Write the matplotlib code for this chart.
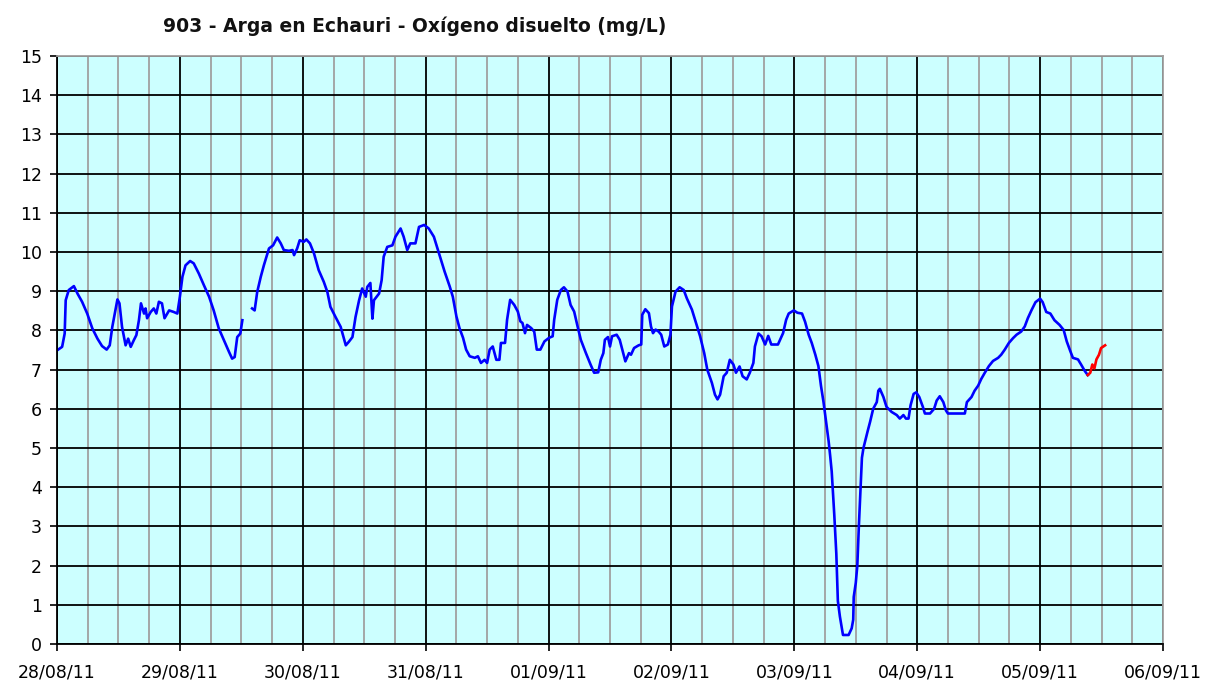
import numpy as np
import pandas as pd
import matplotlib
matplotlib.use("Agg")
import matplotlib.pyplot as plt
import matplotlib.dates as mdates

#hours since 28/08/11 00:00 and dissolved oxygen (mg/L)
start = pd.Timestamp("2011-08-28")

hours_a = [0.0, 1.0, 1.5, 1.7, 2.3, 3.3, 4.0, 4.9, 5.9, 6.9, 7.9, 8.8, 9.7, 10.3, 10.8, 11.4, 11.8,
           12.2, 12.7, 13.4, 13.9, 14.4, 15.0, 15.5, 16.0, 16.4, 17.0, 17.3, 17.6, 18.3, 18.9, 19.4,
           19.9, 20.5, 21.0, 21.9, 22.8, 23.5, 24.0, 24.5, 25.1, 26.0, 26.7, 27.7, 28.7, 29.7, 30.6,
           31.6, 32.6, 33.6, 34.2, 34.7, 35.2, 35.8, 36.2]
oxy_a = [7.49, 7.58, 7.92, 8.77, 9.03, 9.13, 8.94, 8.73, 8.43, 8.05, 7.79, 7.6, 7.51, 7.62, 8.09, 8.51, 8.79,
         8.69, 8.09, 7.62, 7.79, 7.58, 7.75, 7.88, 8.26, 8.69, 8.43, 8.56, 8.31, 8.47, 8.56, 8.43,
         8.73, 8.69, 8.31, 8.51, 8.47, 8.43, 8.86, 9.37, 9.66, 9.77, 9.71, 9.45, 9.15, 8.86, 8.51,
         8.05, 7.75, 7.45, 7.28, 7.32, 7.83, 7.92, 8.26]

hours_b = [38.1, 38.6, 39.1, 39.8, 40.4, 41.4, 42.2, 43.0, 43.7, 44.3, 45.3, 46.0, 46.3, 46.9, 47.4,
           48.2, 48.7, 49.4, 50.2, 51.1, 52.1, 52.8, 53.4, 54.4, 55.4, 56.4, 57.0, 57.7, 58.3, 59.0,
           59.6, 60.3, 60.6, 61.2, 61.6, 61.9, 62.9, 63.4, 63.8, 64.5, 65.5, 66.1, 67.1, 67.7, 68.4,
           69.0, 70.0, 70.7, 71.7, 72.6, 73.6, 74.4, 75.1, 75.7, 76.7, 77.3, 78.0, 78.6, 79.3, 79.9,
           80.6, 81.6, 82.2, 82.8, 83.5, 84.0, 84.5, 85.1, 85.8, 86.4, 86.7, 87.5, 87.9, 88.5, 89.3,
           90.0, 90.5, 90.9, 91.4, 91.8, 92.6, 93.2, 93.7, 94.4, 95.2, 96.1, 96.8, 97.1, 97.7, 98.4,
           99.0, 99.7, 100.3, 101.0, 101.6, 102.3, 103.3, 104.2, 104.9, 105.7, 106.2, 106.7, 107.0,
           107.6, 108.0, 108.4, 109.3, 109.9, 110.4, 111.0, 111.7, 112.1, 112.7, 113.6, 114.1, 114.3,
           114.9, 115.6, 116.0, 116.4, 116.9, 117.5, 118.0, 118.6, 119.3, 119.8, 120.1, 120.8, 121.6,
           122.4, 123.0, 124.0, 124.8, 125.6, 126.4, 127.0, 127.9, 128.5, 129.0, 129.5, 130.2, 130.8,
           131.4, 132.1, 132.6, 133.3, 133.9, 134.7, 135.3, 136.0, 136.3, 137.0, 137.6, 138.3, 138.9,
           139.5, 140.8, 141.8, 142.4, 142.9, 143.9, 144.6, 145.5, 146.1, 146.8, 147.4, 148.1, 148.7,
           149.2, 149.7, 150.2, 150.7, 151.0, 151.3, 151.8, 152.2, 152.5, 152.9, 153.5, 154.6, 155.2,
           155.5, 155.6, 156.0, 156.3, 156.6, 157.0, 157.2, 157.5, 158.3, 158.8, 159.4, 160.1, 160.4,
           160.7, 161.4, 162.0, 163.0, 164.0, 164.6, 165.3, 165.8, 166.3, 166.7, 167.3, 167.8, 168.4,
           169.1, 169.5, 170.5, 171.3, 171.8, 172.4, 173.1, 173.6, 174.0, 175.7, 177.3, 177.7, 178.6,
           179.2, 179.9, 180.5, 181.2, 182.0, 182.8, 183.8, 184.4, 185.1, 185.9, 186.7, 187.4, 188.3,
           189.0, 189.6, 190.3, 191.1, 192.0, 192.5, 193.2, 194.0, 194.8, 195.8, 196.6, 197.2, 197.9,
           198.4, 199.4, 200.0, 200.7, 201.3]
oxy_b = [8.56, 8.51, 8.98, 9.37, 9.66, 10.09, 10.17, 10.37, 10.22, 10.05, 10.03, 10.05, 9.92, 10.09, 10.30,
         10.26, 10.32, 10.22, 9.96, 9.54, 9.24, 8.98, 8.6, 8.34, 8.09, 7.62, 7.71, 7.83, 8.34, 8.77,
         9.07, 8.86, 9.11, 9.21, 8.30, 8.77, 8.94, 9.28, 9.88, 10.13, 10.17, 10.39, 10.6, 10.39, 10.05,
         10.22, 10.22, 10.64, 10.69, 10.6, 10.39, 10.05, 9.75, 9.5, 9.12, 8.86, 8.36, 8.06, 7.81, 7.51,
         7.34, 7.30, 7.34, 7.17, 7.25, 7.17, 7.51, 7.59, 7.25, 7.25, 7.68, 7.68, 8.27, 8.78, 8.65,
         8.48, 8.23, 8.19, 7.93, 8.14, 8.06, 7.97, 7.51, 7.51, 7.72, 7.81, 7.85, 8.27, 8.78, 9.03,
         9.10, 8.99, 8.65, 8.48, 8.14, 7.76, 7.42, 7.13, 6.92, 6.93, 7.25, 7.42, 7.76,
         7.83, 7.59, 7.85, 7.89, 7.76, 7.51, 7.21, 7.42, 7.38, 7.55, 7.62, 7.64, 8.40,
         8.54, 8.44, 8.1, 7.93, 8.02, 7.97, 7.89, 7.59, 7.64, 7.89, 8.61, 8.99, 9.10,
         9.03, 8.82, 8.53, 8.19, 7.85, 7.42, 7.0, 6.66, 6.36, 6.24, 6.36, 6.83, 6.92,
         7.25, 7.13, 6.92, 7.08, 6.83, 6.75, 6.92, 7.17, 7.59, 7.92, 7.85, 7.64, 7.86,
         7.64, 7.64, 7.93, 8.27, 8.43, 8.51, 8.45, 8.43, 8.22, 7.89, 7.68, 7.38, 7.09,
         6.59, 6.17, 5.67, 5.17, 4.8, 4.4, 3.3, 2.3, 1.1, 0.7, 0.23, 0.23, 0.4,
         0.62, 1.2, 1.56, 2.0, 3.0, 4.2, 4.75, 5.0, 5.42, 5.67, 6.0, 6.17, 6.46,
         6.51, 6.30, 6.05, 5.92, 5.84, 5.75, 5.84, 5.75, 5.75, 6.09, 6.38, 6.42, 6.30,
         6.05, 5.88, 5.88, 6.0, 6.21, 6.32, 6.17, 5.96, 5.88, 5.88, 5.88, 6.17, 6.30,
         6.46, 6.59, 6.76, 6.92, 7.09, 7.22, 7.30, 7.38, 7.51, 7.68, 7.80, 7.89, 7.97,
         8.10, 8.31, 8.51, 8.72, 8.81, 8.72, 8.47, 8.43, 8.26, 8.14, 8.01, 7.72, 7.47,
         7.30, 7.26, 7.13, 6.97, 6.86]

#last readings drawn in red
hours_c = [201.3, 201.8, 202.2, 202.6, 203.0, 203.5, 203.9, 204.7]
oxy_c = [6.86, 6.92, 7.13, 7.03, 7.26, 7.38, 7.55, 7.62]

def to_dates(h):
    return start + pd.to_timedelta(h, unit="h")

fig = plt.figure(figsize=(12.07, 6.8), dpi=100)
ax = fig.add_axes([57/1207, 1 - 644/680, (1163 - 57)/1207, (644 - 56)/680])
ax.set_facecolor("#CCFFFF")

ax.plot(to_dates(hours_a), oxy_a, color="#0000FF", linewidth=1.9)
ax.plot(to_dates(hours_b), oxy_b, color="#0000FF", linewidth=1.9)
ax.plot(to_dates(hours_c), oxy_c, color="#FF0000", linewidth=1.9)

ax.set_xlim(start, start + pd.Timedelta(days=9))
ax.set_ylim(0, 15)
ax.set_yticks(np.arange(0, 16, 1))

ax.xaxis.set_major_locator(mdates.DayLocator())
ax.xaxis.set_major_formatter(mdates.DateFormatter("%d/%m/%y"))
ax.xaxis.set_minor_locator(mdates.HourLocator(byhour=[6, 12, 18]))

ax.grid(True, which="major", axis="both", color="black", linewidth=1.3)
ax.grid(True, which="minor", axis="x", color="#A0A0A0", linewidth=1.3)
ax.set_axisbelow(True)

ax.tick_params(axis="both", which="major", direction="out", length=5, width=1.2,
               labelsize=12.5, colors="black")
ax.tick_params(axis="x", which="major", pad=9)
ax.tick_params(axis="y", which="major", pad=6)
ax.tick_params(axis="x", which="minor", length=0)

ax.spines["top"].set_color("#A0A0A0")
ax.spines["right"].set_color("#A0A0A0")
for s in ["top", "right", "left", "bottom"]:
    ax.spines[s].set_linewidth(1.3)

fig.text(415/1207, 1 - 26/680, "903 - Arga en Echauri - Oxígeno disuelto (mg/L)",
         ha="center", va="center", fontsize=13.5, fontweight="bold", color="#111111")

fig.savefig("out.png", dpi=100)
